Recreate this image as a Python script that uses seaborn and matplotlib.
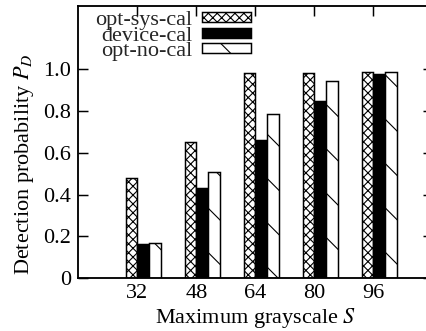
import numpy as np
import pandas as pd
import matplotlib
matplotlib.use("Agg")
import matplotlib.pyplot as plt
import seaborn as sns
from matplotlib.patches import Rectangle

# ---- data ----
grayscale = ["32", "48", "64", "80", "96"]
series_names = ["opt-sys-cal", "device-cal", "opt-no-cal"]
opt_sys_cal = [0.478, 0.649, 0.981, 0.981, 0.984]
device_cal = [0.164, 0.431, 0.658, 0.848, 0.975]
opt_no_cal = [0.167, 0.507, 0.785, 0.941, 0.987]
y_ticks = [0, 0.2, 0.4, 0.6, 0.8, 1.0]
y_tick_labels = ["0", "0.2", "0.4", "0.6", "0.8", "1.0"]

DPI = 400 / 3
FS = 12

sns.set_theme(style="ticks")
plt.rcParams["font.family"] = ["Liberation Serif", "DejaVu Serif"]
plt.rcParams["mathtext.fontset"] = "stix"
plt.rcParams["hatch.linewidth"] = 0.6
plt.rcParams["hatch.color"] = "black"

spacer = " "
rows = []
for g in grayscale:
    rows.append({"S": g, "series": spacer, "PD": np.nan})
for name, vals in zip(series_names, [opt_sys_cal, device_cal, opt_no_cal]):
    for g, v in zip(grayscale, vals):
        rows.append({"S": g, "series": name, "PD": v})
df = pd.DataFrame(rows)

styles = {
    "opt-sys-cal": dict(face="white", hatch="xxxxx"),
    "device-cal": dict(face="black", hatch=None),
    "opt-no-cal": dict(face="white", hatch="\\"),
}
palette = {spacer: "white"}
palette.update({k: v["face"] for k, v in styles.items()})

fig = plt.figure(figsize=(426 / DPI, 331 / DPI), dpi=DPI)
ax = fig.add_axes([78.3 / 426, 52.7 / 331, (432.5 - 78.3) / 426, (325 - 52.7) / 331])

sns.barplot(data=df, x="S", y="PD", hue="series", order=grayscale,
            hue_order=[spacer] + series_names, palette=palette,
            width=0.8, dodge=True, saturation=1, edgecolor="black",
            linewidth=0.8, legend=False, errorbar=None, ax=ax)

# containers holding real bars, in hue order
real = [c for c in ax.containers
        if any(np.isfinite(p.get_height()) and p.get_height() > 0 for p in c.patches)]
for name, cont in zip(series_names, real):
    for p in cont.patches:
        p.set_hatch(styles[name]["hatch"])
        p.set_edgecolor("black")

ax.set_xlim(-1, 5)
ax.set_ylim(0, 1.3)
ax.set_yticks(y_ticks)
ax.set_yticklabels(y_tick_labels)

for s in ax.spines.values():
    s.set_visible(True)
    s.set_linewidth(1.0)
    s.set_color("black")

ax.tick_params(direction="in", length=5.4, width=0.8, color="black",
               top=True, right=True, labelsize=FS, labelcolor="black")
ax.tick_params(axis="y", pad=4)
ax.tick_params(axis="x", pad=3)

ax.set_xlabel("Maximum grayscale $S$", fontsize=FS, color="black")
ax.set_ylabel("Detection probability $P_D$", fontsize=FS, color="black")
ax.xaxis.set_label_coords(0.5, -0.10)
ax.yaxis.set_label_coords(-0.12, 0.42)

handles = [Rectangle((0, 0), 1, 1, facecolor=styles[n]["face"], edgecolor="black",
                     hatch=styles[n]["hatch"], linewidth=0.8) for n in series_names]
leg = ax.legend(handles, series_names, loc="upper right",
                bbox_to_anchor=(250.7 / 426, 1 - 11 / 331), bbox_transform=fig.transFigure,
                frameon=False, markerfirst=False, fontsize=FS,
                handlelength=2.18, handleheight=0.32, handletextpad=0.45,
                labelspacing=-0.15, borderpad=0, borderaxespad=0)

fig.savefig("out.png", dpi=DPI)
